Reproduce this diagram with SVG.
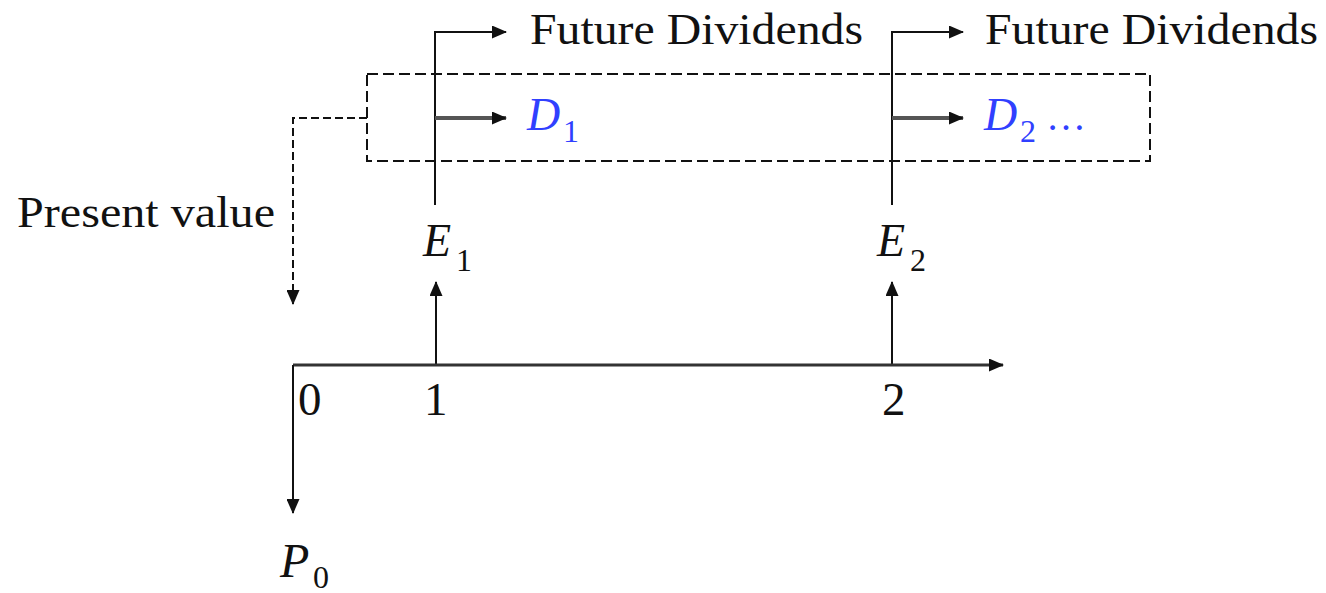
<svg xmlns="http://www.w3.org/2000/svg" width="1326" height="593" viewBox="0 0 1326 593">
  <style>
    .lbl { font-family: "Liberation Serif", "Times New Roman", serif; fill: #111; }
    .math { font-family: "Liberation Serif", "Times New Roman", serif; font-style: italic; fill: #111; }
    .sub { font-family: "Liberation Serif", "Times New Roman", serif; fill: #111; font-size: 32px; }
    .blue { fill: #3040ff; }
    .ln { fill: none; stroke: #111; stroke-width: 2; }
    .gray { fill: none; stroke: #555; stroke-width: 4; }
    .axis { fill: none; stroke: #333; stroke-width: 3; }
    .dash { fill: none; stroke: #111; stroke-width: 2; stroke-dasharray: 11 5; }
    .dash2 { fill: none; stroke: #111; stroke-width: 2; stroke-dasharray: 8 4; }
  </style>
  <defs>
    <marker id="ah" markerUnits="userSpaceOnUse" markerWidth="15" markerHeight="13" refX="14" refY="6.5" orient="auto">
      <path d="M0,0 L15,6.5 L0,13 Z" fill="#111"/>
    </marker>
  </defs>
  <rect width="1326" height="593" fill="#fff"/>

  <g id="connectors">
    <!-- dashed box -->
    <rect class="dash" x="367" y="74" width="783" height="87"/>
    <!-- present value dashed connector -->
    <path class="dash2" d="M367,118 H293 V304" marker-end="url(#ah)"/>
    <!-- period 1 -->
    <path class="ln" d="M435,205 V32 H506" marker-end="url(#ah)"/>
    <path class="gray" d="M435,118 H506" marker-end="url(#ah)"/>
    <path class="ln" d="M436,365 V282" marker-end="url(#ah)"/>
    <!-- period 2 -->
    <path class="ln" d="M892,205 V32 H963" marker-end="url(#ah)"/>
    <path class="gray" d="M892,118 H963" marker-end="url(#ah)"/>
    <path class="ln" d="M892,365 V282" marker-end="url(#ah)"/>
    <!-- time axis -->
    <path class="axis" d="M293,365 H1003" marker-end="url(#ah)"/>
    <!-- P0 arrow -->
    <path class="ln" d="M293,365 V513" marker-end="url(#ah)"/>
  </g>

  <g id="future1">
    <text class="lbl" x="530" y="44" font-size="45" textLength="333" lengthAdjust="spacingAndGlyphs">Future Dividends</text>
  </g>
  <g id="future2">
    <text class="lbl" x="985" y="44" font-size="45" textLength="333" lengthAdjust="spacingAndGlyphs">Future Dividends</text>
  </g>
  <g id="d1">
    <text class="math blue" x="527" y="130" font-size="46">D</text>
    <text class="sub blue" x="563" y="142">1</text>
  </g>
  <g id="d2">
    <text class="math blue" x="984" y="130" font-size="46">D</text>
    <text class="sub blue" x="1020" y="142">2</text>
    <text class="lbl blue" x="1046" y="130" font-size="40">…</text>
  </g>
  <g id="present-value">
    <text class="lbl" x="17" y="227" font-size="45" textLength="258" lengthAdjust="spacingAndGlyphs">Present value</text>
  </g>
  <g id="e1">
    <text class="math" x="423" y="256" font-size="46">E</text>
    <text class="sub" x="456" y="271">1</text>
  </g>
  <g id="e2">
    <text class="math" x="877" y="256" font-size="46">E</text>
    <text class="sub" x="910" y="271">2</text>
  </g>
  <g id="t0">
    <text class="lbl" x="298" y="415" font-size="47">0</text>
  </g>
  <g id="t1">
    <text class="lbl" x="424" y="415" font-size="47">1</text>
  </g>
  <g id="t2">
    <text class="lbl" x="882" y="415" font-size="47">2</text>
  </g>
  <g id="p0">
    <text class="math" x="280" y="577" font-size="48">P</text>
    <text class="sub" x="313" y="588">0</text>
  </g>
</svg>
